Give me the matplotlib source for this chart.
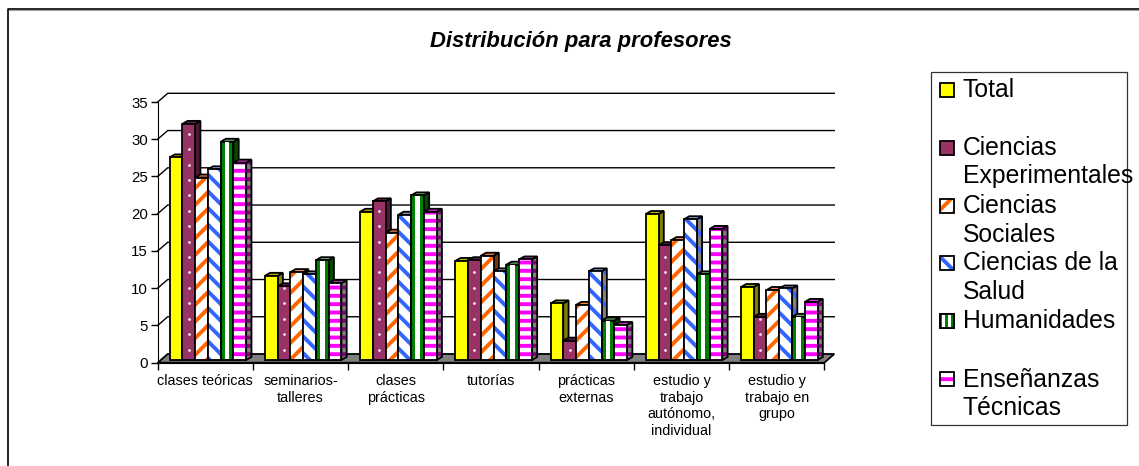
import numpy as np
import matplotlib
matplotlib.use('Agg')
import matplotlib.pyplot as plt
from matplotlib.patches import Polygon, Rectangle
from matplotlib.lines import Line2D

categories = ['clases teóricas', 'seminarios-\ntalleres', 'clases\nprácticas', 'tutorías',
              'prácticas\nexternas', 'estudio y\ntrabajo\nautónomo,\nindividual', 'estudio y\ntrabajo en\ngrupo']
total = [27.2, 11.3, 19.9, 13.3, 7.6, 19.6, 9.8]
experimentales = [31.7, 9.9, 21.3, 13.4, 2.6, 15.4, 5.8]
sociales = [24.5, 11.8, 17.1, 14.0, 7.4, 16.1, 9.4]
salud = [25.6, 11.5, 19.5, 11.9, 11.9, 18.9, 9.6]
humanidades = [29.3, 13.4, 22.1, 12.8, 5.3, 11.5, 5.8]
tecnicas = [26.5, 10.3, 19.9, 13.5, 4.7, 17.6, 7.8]
yticks = [0, 5, 10, 15, 20, 25, 30, 35]

W, H = 1139, 466
plt.rcParams['font.family'] = ['Liberation Sans', 'DejaVu Sans']
plt.rcParams['hatch.linewidth'] = 2.8

# front, hatch, side, side hatch, top
styles = [
    ('#ffff00', None, '#808000', None, '#b3b300'),
    ('#993366', None, '#4d1a33', None, '#6b2447'),
    ('white', ('#ff6600', '//'), '#803300', None, '#ff8c40'),
    ('white', ('#3366ff', '\\\\'), '#808080', ('#3366ff', '\\\\'), '#8fa8e0'),
    ('#008000', None, '#004d00', None, '#70a870'),
    ('white', ('#ff00ff', '--'), '#808080', ('#800080', '--'), '#cc33cc'),
]
series = [total, experimentales, sociales, salud, humanidades, tecnicas]

fig = plt.figure(figsize=(W / 100, H / 100), dpi=100)
ax = fig.add_axes([157.7 / W, 1 - 362.7 / H, 666.6 / W, 260.7 / H])
ax.set_xlim(0, 7)
ax.set_ylim(0, 35)
ax.patch.set_alpha(0)
for s in ['top', 'right']:
    ax.spines[s].set_visible(False)

ux = 666.6 / 7    # px por categoria
uy = 260.7 / 35   # px por unidad
wx, wy = 10 / ux, 8.7 / uy     # fondo del suelo
dx, dy = 5.3 / ux, 3 / uy      # fondo de cada barra
lift = 2.7 / uy
start, bw = 0.125, 0.134


def poly(pts, face, hatch=None, z=3):
    if hatch:
        ax.add_patch(Polygon(pts, closed=True, facecolor=face, edgecolor=hatch[0], hatch=hatch[1],
                             linewidth=0, zorder=z, clip_on=False))
        ax.add_patch(Polygon(pts, closed=True, fill=False, edgecolor='black', linewidth=1.3, zorder=z, clip_on=False))
    else:
        ax.add_patch(Polygon(pts, closed=True, facecolor=face, edgecolor='black', linewidth=1.3, zorder=z, clip_on=False))


# suelo y rejilla
poly([(0, 0), (7, 0), (7 + wx, wy), (wx, wy)], '#808080', z=1)
for t in yticks[1:]:
    ax.plot([0, wx, 7 + wx], [t, t + wy, t + wy], color='black', lw=1.0, zorder=0, clip_on=False)

z = 3
for g in range(len(categories)):
    for s, vals in enumerate(series):
        v = vals[g]
        x0 = g + start + s * bw
        x1 = x0 + bw
        front, hatch, side, side_hatch, top = styles[s]
        y0 = lift
        y1 = lift + v
        poly([(x1, y0), (x1 + dx, y0 + dy), (x1 + dx, y1 + dy), (x1, y1)], side, side_hatch, z)
        poly([(x0, y1), (x1, y1), (x1 + dx, y1 + dy), (x0 + dx, y1 + dy)], top, None, z)
        z += 1
        if hatch:
            ax.bar(x0, v, bw, bottom=lift, align='edge', facecolor=front, edgecolor=hatch[0],
                   hatch=hatch[1], linewidth=0, zorder=z)
            ax.bar(x0, v, bw, bottom=lift, align='edge', fill=False, edgecolor='black', linewidth=1.3, zorder=z)
        else:
            ax.bar(x0, v, bw, bottom=lift, align='edge', facecolor=front, edgecolor='black', linewidth=1.3, zorder=z)
        if s == 4:
            # franja blanca central
            ax.bar(x0 + bw * 0.32, v - 0.15, bw * 0.36, bottom=lift + 0.08, align='edge', color='white', linewidth=0, zorder=z)
        if s == 1:
            dots = np.arange(1.4, v, 2.07)
            ax.scatter(np.full(len(dots), x0 + bw / 2), dots + lift, s=4, color='#f4e4ec', linewidth=0, zorder=z)
        z += 1

ax.set_yticks(yticks)
ax.tick_params(axis='y', labelsize=10.8, length=5, width=1, pad=2)
ax.set_xticks(range(8))
ax.set_xticklabels([])
ax.tick_params(axis='x', which='major', length=5, width=1)
ax.set_xticks(np.arange(7) + 0.5, categories, minor=True)
ax.tick_params(axis='x', which='minor', length=0, labelsize=10.4, pad=8)
for lab in ax.get_xticklabels(minor=True):
    lab.set_linespacing(1.25)

# titulo
fig.text(580.5 / W, 1 - 41 / H, 'Distribución para profesores', ha='center', va='center',
         fontsize=15.85, fontweight='bold', fontstyle='italic')

# marco del grafico
fig.add_artist(Line2D([7.5 / W, 7.5 / W, 1], [0, 1 - 8.5 / H, 1 - 8.5 / H], color='black', lw=1.2))
fig.add_artist(Line2D([8.5 / W, 1], [1 - 10 / H, 1 - 10 / H], color='#a0a0a0', lw=0.8))

# leyenda
fig.add_artist(Rectangle((931 / W, 1 - 425 / H), 196 / W, 353 / H, transform=fig.transFigure,
                         facecolor='white', edgecolor='#333333', lw=0.9))
legend_y = [89.7, 148.3, 205.7, 263.3, 321, 379.3]
legend_lines = [
    [('Total', 96.7)],
    [('Ciencias', 155), ('Experimentales', 183.3)],
    [('Ciencias', 213.3), ('Sociales', 242.3)],
    [('Ciencias de la', 270), ('Salud', 299)],
    [('Humanidades', 328)],
    [('Enseñanzas', 386.7), ('Técnicas', 415)],
]
for i, st in enumerate(styles):
    x, y = 939.5 / W, 1 - (legend_y[i] + 7) / H
    w, h = 14.5 / W, 14 / H
    kw = dict(transform=fig.transFigure)
    if st[1]:
        fig.add_artist(Rectangle((x, y), w, h, facecolor=st[0], edgecolor=st[1][0], hatch=st[1][1], lw=0, **kw))
        fig.add_artist(Rectangle((x, y), w, h, fill=False, edgecolor='black', lw=1.3, **kw))
    else:
        fig.add_artist(Rectangle((x, y), w, h, facecolor=st[0], edgecolor='black', lw=1.3, **kw))
    if i == 4:
        for f in (0.17, 0.6):
            fig.add_artist(Rectangle((x + w * f, y), w * 0.22, h, facecolor='white', lw=0, **kw))
        fig.add_artist(Rectangle((x, y), w, h, fill=False, edgecolor='black', lw=1.3, **kw))
    for txt, base in legend_lines[i]:
        fig.text(963 / W, 1 - base / H, txt, fontsize=17.8, va='baseline', ha='left')

fig.savefig('out.png', dpi=100)
